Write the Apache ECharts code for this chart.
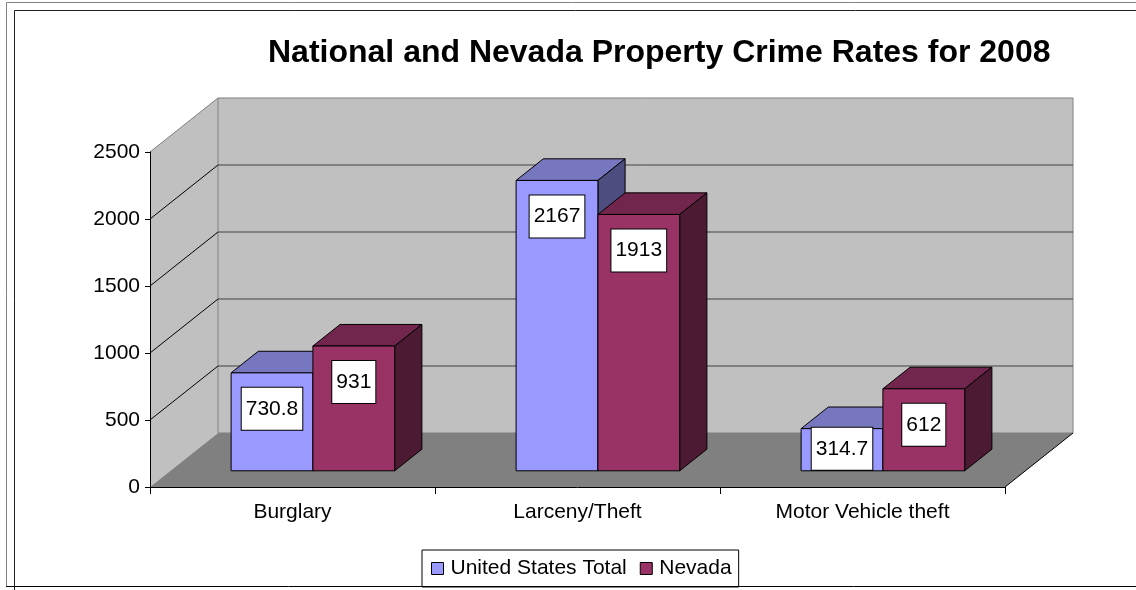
<!DOCTYPE html>
<html>
<head>
<meta charset="utf-8">
<script src="https://cdn.jsdelivr.net/npm/echarts@6/dist/echarts.min.js"></script>
<style>
  html, body { margin: 0; padding: 0; background: #fff; }
  #main { width: 1136px; height: 590px; }
</style>
</head>
<body>
<div id="main"></div>
<script>
// data
const categories = ['Burglary', 'Larceny/Theft', 'Motor Vehicle theft'];
const usTotal = [730.8, 2167, 314.7];
const nevada = [931, 1913, 612];
const yTicks = [0, 500, 1000, 1500, 2000, 2500];

// depth of the 3d box (px), and where the bars sit inside it
const DX = 68, DY = -54;
const FONT = '"Liberation Sans", Arial, sans-serif';
const FS = 21;

const chart = echarts.init(document.getElementById('main'));

// back wall, side wall, floor and their gridlines
function renderWalls(params, api) {
    const cs = params.coordSys;
    const x0 = cs.x, x1 = cs.x + cs.width, yTop = cs.y, yBot = cs.y + cs.height;
    const kids = [];
    // side wall
    kids.push({ type: 'polygon', shape: { points: [[x0, yTop], [x0 + DX, yTop + DY], [x0 + DX, yBot + DY], [x0, yBot]] },
        style: { fill: '#c0c0c0', stroke: null } });
    // back wall
    kids.push({ type: 'rect', shape: { x: x0 + DX, y: yTop + DY, width: cs.width, height: cs.height },
        style: { fill: '#c0c0c0', stroke: '#808080', lineWidth: 1 } });
    // floor
    kids.push({ type: 'polygon', shape: { points: [[x0, yBot], [x0 + DX, yBot + DY], [x1 + DX, yBot + DY], [x1, yBot]] },
        style: { fill: '#808080', stroke: null } });
    // gridlines
    yTicks.forEach(function (t) {
        if (t === 0) return;
        const y = api.coord([0, t])[1];
        const last = t === yTicks[yTicks.length - 1];
        kids.push({ type: 'line', shape: { x1: x0, y1: y, x2: x0 + DX, y2: y + DY }, style: { stroke: last ? '#808080' : '#000', lineWidth: 1 } });
        if (!last) {
            kids.push({ type: 'line', shape: { x1: x0 + DX, y1: y + DY, x2: x1 + DX, y2: y + DY }, style: { stroke: '#404040', lineWidth: 1 } });
        }
    });
    // floor right edge
    kids.push({ type: 'line', shape: { x1: x1, y1: yBot, x2: x1 + DX, y2: yBot + DY }, style: { stroke: '#000', lineWidth: 1 } });
    return { type: 'group', children: kids };
}

function makeBar(which, front, topC, sideC) {
    return function (params, api) {
        const ci = api.value(0), v = api.value(1);
        const base = api.coord([ci, 0]);
        const top = api.coord([ci, v]);
        const band = api.size([1, 0])[0];
        const bw = band * 0.287;
        const ox = DX * 0.3, oy = DY * 0.3;
        const tx = DX * 0.4, ty = DY * 0.4;
        const x0 = base[0] + (which === 0 ? -bw : 0) + ox;
        const yT = top[1] + oy, yB = base[1] + oy;
        const ln = { stroke: '#000', lineWidth: 1 };
        const boxH = 42;
        const labelTop = Math.min(yT + 15, yB - boxH - 1);
        return {
            type: 'group',
            children: [
                { type: 'polygon', shape: { points: [[x0, yT], [x0 + bw, yT], [x0 + bw + tx, yT + ty], [x0 + tx, yT + ty]] },
                    style: Object.assign({ fill: topC }, ln) },
                { type: 'polygon', shape: { points: [[x0 + bw, yT], [x0 + bw + tx, yT + ty], [x0 + bw + tx, yB + ty], [x0 + bw, yB]] },
                    style: Object.assign({ fill: sideC }, ln) },
                { type: 'rect', shape: { x: x0, y: yT, width: bw, height: yB - yT },
                    style: Object.assign({ fill: front }, ln) },
                { type: 'text', x: x0 + bw / 2, y: labelTop,
                    style: { text: String(v), fontSize: FS, fontFamily: FONT, fill: '#000', align: 'center', verticalAlign: 'top',
                        lineHeight: 22, backgroundColor: '#fff', borderColor: '#000', borderWidth: 1, padding: [10, 4] } }
            ]
        };
    };
}

const option = {
    animation: false,
    backgroundColor: '#fff',
    title: {
        text: 'National and Nevada Property Crime Rates for 2008',
        left: 268, top: 37, padding: 0,
        textStyle: { fontSize: 32, fontWeight: 'bold', fontFamily: FONT, color: '#000' }
    },
    legend: {
        data: ['United States Total', 'Nevada'],
        left: 422, top: 550,
        padding: [8, 7, 8, 9],
        itemGap: 13,
        itemWidth: 12, itemHeight: 12,
        icon: 'rect',
        backgroundColor: '#fff',
        borderColor: '#000', borderWidth: 1,
        itemStyle: { borderColor: '#000', borderWidth: 1 },
        textStyle: { fontSize: FS, fontFamily: FONT, color: '#000', padding: [0, 0, 0, 2] }
    },
    graphic: [
        { type: 'polyline', shape: { points: [[1136, 2.5], [6.5, 2.5], [6.5, 586]] }, style: { stroke: '#808080', fill: null, lineWidth: 1 }, z: 100 },
        { type: 'polyline', shape: { points: [[1136, 10.5], [14.5, 10.5], [14.5, 590]] }, style: { stroke: '#202020', fill: null, lineWidth: 1 }, z: 100 },
        { type: 'line', shape: { x1: 6, y1: 586.5, x2: 1136, y2: 586.5 }, style: { stroke: '#000', lineWidth: 1 }, z: 100 }
    ],
    grid: { left: 150, right: 131, top: 152, bottom: 103 },
    xAxis: {
        type: 'category',
        data: categories,
        z: 10,
        axisLine: { lineStyle: { color: '#000', width: 1 } },
        axisTick: { show: true, length: 7, lineStyle: { color: '#000' } },
        axisLabel: { fontSize: FS, fontFamily: FONT, color: '#000', margin: 15 }
    },
    yAxis: {
        type: 'value',
        min: 0, max: 2500, interval: 500,
        z: 10,
        axisLine: { show: true, lineStyle: { color: '#000', width: 1 } },
        axisTick: { show: true, length: 5, lineStyle: { color: '#000' } },
        axisLabel: { fontSize: FS, fontFamily: FONT, color: '#000', margin: 10, formatter: function (v) { return String(v); } },
        splitLine: { show: false }
    },
    series: [
        { type: 'custom', renderItem: renderWalls, data: [[0, 0]], silent: true, z: 1 },
        { type: 'custom', name: 'United States Total', itemStyle: { color: '#9999ff' }, z: 3,
            renderItem: makeBar(0, '#9999ff', '#7777c0', '#4d4d80'),
            data: usTotal.map(function (v, i) { return [i, v]; }) },
        { type: 'custom', name: 'Nevada', itemStyle: { color: '#993366' }, z: 4,
            renderItem: makeBar(1, '#993366', '#73264d', '#4d1a33'),
            data: nevada.map(function (v, i) { return [i, v]; }) }
    ]
};

chart.setOption(option);
</script>
</body>
</html>
